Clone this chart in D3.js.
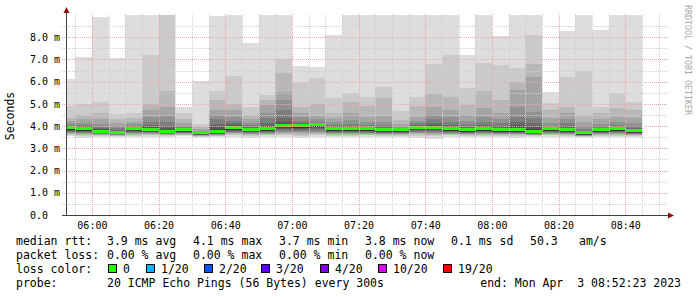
<!DOCTYPE html>
<html><head><meta charset="utf-8">
<script src="https://cdn.jsdelivr.net/npm/d3@7"></script>
<style>
body{margin:0;background:#fff}
text{font-family:"DejaVu Sans Mono",monospace;white-space:pre}
</style>
</head><body>
<svg id="c" width="697" height="297"></svg>
<script>
// ---------------- DATA ----------------
const day = "2023-04-03";
const rangeStart = "05:52:23", rangeEnd = "08:52:23";
const times = ["05:55","06:00","06:05","06:10","06:15","06:20","06:25","06:30","06:35","06:40","06:45","06:50","06:55","07:00","07:05","07:10","07:15","07:20","07:25","07:30","07:35","07:40","07:45","07:50","07:55","08:00","08:05","08:10","08:15","08:20","08:25","08:30","08:35","08:40","08:45"];
const median = [3.92,3.88,3.77,3.73,3.89,3.86,3.78,3.83,3.71,3.76,3.92,3.86,3.88,4.04,4.01,4.07,3.88,3.88,3.88,3.84,3.84,3.95,3.95,3.88,3.83,3.88,3.83,3.83,3.78,3.88,3.84,3.71,3.84,3.88,3.80];
const lossPct = [0,0,0,0,0,0,0,0,0,0,0,0,0,0,0,0,0,0,0,0,0,0,0,0,0,0,0,0,0,0,0,0,0,0,0];
// sorted ping ranks (ms), p1 = fastest ... p20 = slowest
const p20 = [6.12,7.11,8.93,7.07,9.7,10.4,11.2,4.87,6.03,8.96,9.9,7.75,10.1,11.5,6.70,6.66,8.10,9.8,10.3,9.9,10.6,9.7,10.8,11.0,7.20,9.9,8.07,10.5,12.0,5.55,8.28,9.8,8.33,10.2,9.9];
const p19 = [4.90,4.98,5.10,4.53,4.60,7.20,9.30,4.59,4.10,5.58,6.26,4.87,5.40,7.00,5.95,6.15,5.28,5.50,5.32,5.75,4.68,5.32,6.80,7.20,5.70,6.83,6.75,6.60,8.10,5.05,6.22,6.49,4.85,5.50,5.10];
const p18 = [4.37,4.50,4.59,4.30,4.37,5.00,5.58,4.30,3.95,5.18,5.00,4.50,5.18,6.40,4.86,5.00,4.59,5.10,4.90,5.25,4.28,4.90,5.45,5.32,4.95,5.59,5.18,6.00,6.80,4.73,4.87,4.50,4.59,4.80,4.73];
const p17 = [4.22,4.30,4.30,4.12,4.20,4.73,4.87,4.14,3.86,4.73,4.73,4.30,4.95,5.55,4.59,4.46,4.35,4.60,4.41,4.46,4.08,4.42,4.87,4.73,4.50,4.80,4.59,5.63,6.22,4.37,4.59,4.20,4.30,4.42,4.37];
const p16 = [4.12,4.15,4.10,4.00,4.08,4.42,4.46,4.02,3.80,4.50,4.42,4.15,4.60,5.18,4.40,4.30,4.18,4.28,4.20,4.20,3.97,4.25,4.50,4.42,4.25,4.42,4.30,4.87,4.65,4.15,4.30,4.00,4.10,4.20,4.15];
const p15 = [4.06,4.06,3.98,3.90,4.00,4.20,4.20,3.95,3.77,4.30,4.25,4.05,4.35,4.73,4.25,4.20,4.06,4.10,4.06,4.05,3.91,4.12,4.30,4.20,4.08,4.20,4.12,4.42,4.37,4.02,4.12,3.88,3.99,4.05,4.00];
const p14 = [4.02,4.00,3.90,3.84,3.96,4.05,4.00,3.90,3.75,4.10,4.12,3.98,4.15,4.37,4.15,4.14,3.99,4.00,3.98,3.96,3.88,4.05,4.15,4.05,3.97,4.05,4.00,4.20,4.15,3.95,4.00,3.80,3.92,3.97,3.90];
const p13 = [3.99,3.96,3.85,3.80,3.93,3.96,3.90,3.87,3.74,3.95,4.03,3.93,4.02,4.20,4.08,4.11,3.94,3.94,3.94,3.90,3.86,4.00,4.05,3.96,3.90,3.96,3.92,4.05,3.98,3.92,3.93,3.76,3.88,3.93,3.85];
const p12 = [3.96,3.93,3.81,3.77,3.91,3.91,3.84,3.85,3.73,3.85,3.97,3.90,3.95,4.10,4.04,4.09,3.91,3.91,3.91,3.87,3.85,3.97,4.00,3.92,3.86,3.91,3.87,3.90,3.85,3.90,3.88,3.74,3.86,3.90,3.82];
const p11 = [3.94,3.90,3.79,3.75,3.90,3.88,3.80,3.84,3.72,3.79,3.94,3.88,3.90,4.06,4.02,4.08,3.89,3.89,3.89,3.85,3.845,3.96,3.97,3.90,3.84,3.89,3.85,3.85,3.80,3.89,3.86,3.72,3.85,3.89,3.81];
const p10 = [3.84,3.80,3.70,3.66,3.81,3.78,3.70,3.76,3.64,3.68,3.84,3.78,3.80,3.96,3.93,3.99,3.80,3.80,3.80,3.76,3.76,3.87,3.87,3.80,3.75,3.80,3.75,3.75,3.70,3.80,3.76,3.63,3.76,3.80,3.72];
const p9  = [3.82,3.78,3.69,3.65,3.79,3.76,3.69,3.75,3.63,3.67,3.82,3.76,3.78,3.93,3.90,3.95,3.78,3.78,3.78,3.74,3.74,3.85,3.85,3.78,3.74,3.78,3.74,3.74,3.69,3.78,3.75,3.62,3.75,3.78,3.71];
const p8  = [3.79,3.76,3.68,3.64,3.77,3.74,3.68,3.73,3.62,3.66,3.80,3.74,3.76,3.89,3.86,3.90,3.76,3.76,3.76,3.72,3.72,3.82,3.82,3.76,3.72,3.76,3.72,3.72,3.68,3.76,3.73,3.61,3.73,3.76,3.70];
const p7  = [3.76,3.73,3.67,3.63,3.74,3.72,3.67,3.71,3.61,3.65,3.77,3.72,3.74,3.85,3.82,3.85,3.74,3.74,3.74,3.70,3.70,3.79,3.78,3.74,3.70,3.74,3.70,3.70,3.66,3.74,3.71,3.60,3.71,3.74,3.68];
const p6  = [3.73,3.70,3.65,3.62,3.71,3.69,3.66,3.69,3.60,3.63,3.73,3.69,3.71,3.80,3.77,3.80,3.71,3.71,3.71,3.68,3.68,3.75,3.74,3.71,3.68,3.71,3.68,3.68,3.64,3.71,3.69,3.59,3.69,3.71,3.66];
const p5  = [3.70,3.67,3.63,3.60,3.68,3.67,3.64,3.67,3.58,3.61,3.70,3.66,3.68,3.75,3.72,3.75,3.68,3.68,3.68,3.65,3.65,3.71,3.70,3.68,3.65,3.68,3.65,3.65,3.62,3.68,3.66,3.57,3.66,3.68,3.64];
const p4  = [3.67,3.64,3.61,3.59,3.65,3.64,3.62,3.65,3.57,3.59,3.67,3.63,3.65,3.70,3.67,3.70,3.65,3.65,3.65,3.63,3.63,3.67,3.65,3.65,3.63,3.65,3.63,3.63,3.60,3.65,3.63,3.56,3.63,3.65,3.61];
const p3  = [3.63,3.60,3.59,3.57,3.61,3.61,3.60,3.62,3.55,3.57,3.63,3.59,3.62,3.65,3.62,3.64,3.61,3.61,3.61,3.60,3.60,3.63,3.60,3.61,3.60,3.61,3.60,3.60,3.58,3.62,3.60,3.54,3.61,3.61,3.59];
const p2  = [3.59,3.54,3.56,3.55,3.57,3.58,3.57,3.59,3.53,3.55,3.58,3.55,3.58,3.60,3.56,3.58,3.57,3.57,3.58,3.56,3.56,3.57,3.54,3.58,3.56,3.57,3.56,3.55,3.56,3.58,3.57,3.52,3.57,3.57,3.56];
const p1  = [3.55,3.46,3.50,3.52,3.50,3.52,3.53,3.55,3.50,3.52,3.50,3.47,3.50,3.52,3.48,3.50,3.50,3.50,3.52,3.50,3.50,3.48,3.44,3.52,3.50,3.50,3.50,3.46,3.50,3.50,3.52,3.50,3.50,3.50,3.50];

const yTickValues = [0,1,2,3,4,5,6,7,8];
const yTickLabels = ["0.0","1.0 m","2.0 m","3.0 m","4.0 m","5.0 m","6.0 m","7.0 m","8.0 m"];
const xTickLabels = ["06:00","06:20","06:40","07:00","07:20","07:40","08:00","08:20","08:40"];
const yTitle = "Seconds";
const rttStats = ["3.9 ms avg","4.1 ms max","3.7 ms min","3.8 ms now","0.1 ms sd","50.3","am/s"];
const lossStats = ["0.00 % avg","0.00 % max","0.00 % min","0.00 % now"];
const lossLabels = ["0","1/20","2/20","3/20","4/20","10/20","19/20"];
const lossColors = ["#26ff00","#00b8ff","#0059ff","#5e00ff","#7e00ff","#dd00ff","#ff0000"];
const probeText = "20 ICMP Echo Pings (56 Bytes) every 300s";
const endText = "end: Mon Apr  3 08:52:23 2023";
const watermark = "RRDTOOL / TOBI OETIKER";

// ---------------- DRAW ----------------
const ranks = [p1,p2,p3,p4,p5,p6,p7,p8,p9,p10,p11,p12,p13,p14,p15,p16,p17,p18,p19,p20];
const parse = d3.timeParse("%Y-%m-%d %H:%M:%S");
const tStart = parse(day+" "+rangeStart), tEnd = parse(day+" "+rangeEnd);
const L = 66.5, R = 666.5, T = 15, B = 215;
const x = d3.scaleTime().domain([tStart,tEnd]).range([L,R]);
const y = d3.scaleLinear().domain([0,9]).range([B,T]);
const svg = d3.select("#c");

svg.append("defs").append("clipPath").attr("id","pc")
  .append("rect").attr("x",L).attr("y",T).attr("width",R-L).attr("height",B-T);

const plot = svg.append("g").attr("clip-path","url(#pc)");
const half = 10;
times.forEach((t,i)=>{
  const t1 = parse(day+" "+t+":00");
  const t0 = d3.timeMinute.offset(t1,-5);
  const x0 = Math.round(x(t0)), x1 = Math.round(x(t1));
  for(let b=1;b<=half;b++){
    const lo = ranks[b-1][i], hi = ranks[20-b][i];
    const g = Math.floor(190/half*(half-b))+50;
    const y0 = Math.round(y(hi)), y1 = Math.round(y(lo));
    plot.append("rect").attr("x",x0).attr("width",x1-x0)
      .attr("y",y0).attr("height",Math.max(0,y1-y0))
      .attr("fill",d3.rgb(g,g,g));
  }
  const ym = y(median[i]);
  const li = lossPct[i]===0?0:1;
  plot.append("rect").attr("x",x0).attr("width",x1-x0)
    .attr("y",Math.round(ym-1.5)).attr("height",3).attr("fill",lossColors[li]);
});

// grid
const grid = svg.append("g");
d3.range(1,18).map(k=>k*0.5).forEach(v=>{
  const yy = Math.round(y(v))+0.5;
  grid.append("line").attr("x1",62).attr("x2",668).attr("y1",yy).attr("y2",yy)
    .attr("stroke", v%1===0?"#e8aaaa":"#d0d0d0").attr("stroke-dasharray","1,1");
});
const gStart = parse(day+" 05:55:00"), gEnd = parse(day+" 08:50:00");
d3.timeMinute.every(5).range(gStart, d3.timeMinute.offset(gEnd,1)).forEach(d=>{
  const xx = Math.round(x(d))+0.5;
  const major = d.getMinutes()%20===0;
  grid.append("line").attr("x1",xx).attr("x2",xx).attr("y1",T-1).attr("y2",B)
    .attr("stroke", major?"#e8aaaa":"#d0d0d0").attr("stroke-dasharray","1,1");
});

// axes lines + arrows
svg.append("line").attr("x1",66.5).attr("x2",66.5).attr("y1",B+0.5).attr("y2",12).attr("stroke","#404040");
svg.append("line").attr("x1",62).attr("x2",669).attr("y1",B+0.5).attr("y2",B+0.5).attr("stroke","#404040");
svg.append("path").attr("d","M63.5,13 L69.5,13 L66.5,7 Z").attr("fill","#8b1010");
svg.append("path").attr("d","M668,212.5 L668,218.5 L674,215.5 Z").attr("fill","#8b1010");

// y axis labels
const yAx = svg.append("g").attr("transform",`translate(${L},0)`)
  .call(d3.axisLeft(y).tickValues(yTickValues).tickFormat((d,i)=>yTickLabels[i]).tickSize(0));
yAx.select(".domain").remove();
yAx.attr("font-family","DejaVu Sans Mono").attr("font-size",10);
yAx.selectAll(".tick text").attr("x",30-L).attr("text-anchor","start").attr("fill","#000");

// x axis labels
const xTickDates = xTickLabels.map(s=>parse(day+" "+s+":00"));
const xAx = svg.append("g").attr("transform",`translate(0,${B})`)
  .call(d3.axisBottom(x).tickValues(xTickDates).tickFormat(d3.timeFormat("%H:%M")).tickSize(0).tickPadding(6.5));
xAx.select(".domain").remove();
xAx.attr("font-family","DejaVu Sans Mono").attr("font-size",10);
xAx.selectAll(".tick text").attr("fill","#000");

// y title
svg.append("text").attr("transform","translate(14,116) rotate(-90)")
  .attr("text-anchor","middle").attr("font-size",11.5).text(yTitle);

// watermark
svg.append("text").attr("transform","translate(684.5,5) rotate(90)")
  .attr("font-size",8.3).attr("fill","#a8a8a8").text(watermark);

// legend
const fs = 11.5;
const colX = [107,193,279,365,451,530,579];
const leg = svg.append("g").attr("font-size",fs).attr("fill","#000");
leg.append("text").attr("x",16).attr("y",245).text("median rtt:");
rttStats.forEach((s,i)=>leg.append("text").attr("x",colX[i]).attr("y",245).text(s));
leg.append("text").attr("x",16).attr("y",259).text("packet loss:");
lossStats.forEach((s,i)=>leg.append("text").attr("x",colX[i]).attr("y",259).text(s));
leg.append("text").attr("x",16).attr("y",273).text("loss color:");
const boxX = [108,146,204,261,320,378,443];
lossLabels.forEach((s,i)=>{
  leg.append("rect").attr("x",boxX[i]+0.5).attr("y",264.5).attr("width",8).attr("height",8)
    .attr("fill",lossColors[i]).attr("stroke","#000").attr("stroke-width",1);
  leg.append("text").attr("x",boxX[i]+15).attr("y",273).text(s);
});
leg.append("text").attr("x",16).attr("y",287).text("probe:");
leg.append("text").attr("x",107).attr("y",287).text(probeText);
leg.append("text").attr("x",681).attr("y",287).attr("text-anchor","end").text(endText);
</script>
</body></html>
